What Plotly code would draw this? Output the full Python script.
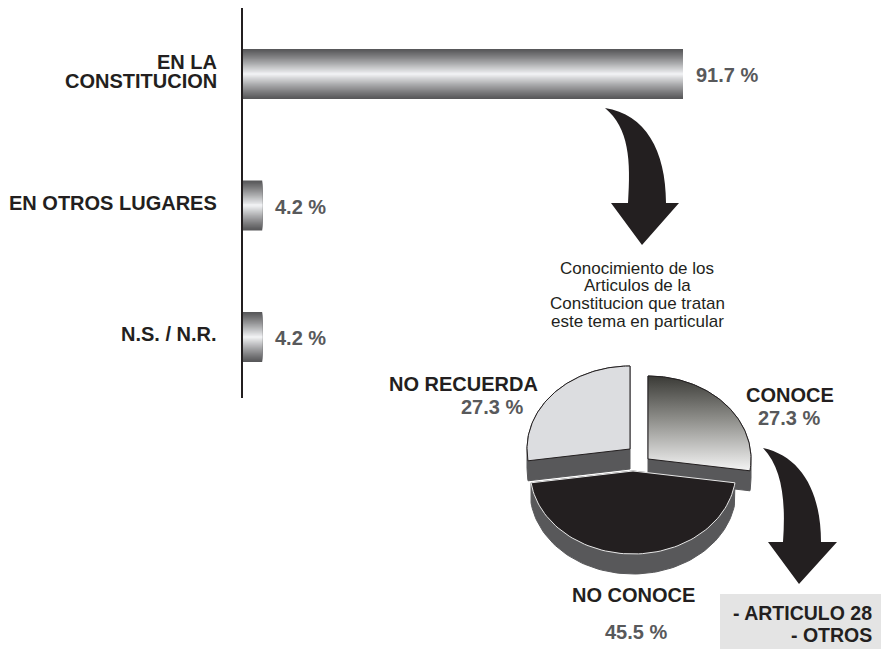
import numpy as np
import plotly.graph_objects as go

# --- data -------------------------------------------------------------
categories = ["EN LA<br>CONSTITUCION", "EN OTROS LUGARES", "N.S. / N.R."]
shares = [91.7, 4.2, 4.2]

pie_labels = ["CONOCE", "NO CONOCE", "NO RECUERDA"]
pie_values = [27.3, 45.5, 27.3]

subtitle_lines = ["Conocimiento de los", "Articulos de la",
                  "Constitucion que tratan", "este tema en particular"]
detail_items = ["- ARTICULO 28", "- OTROS"]

# --- styling ------------------------------------------------------------
W, H = 881, 652
FONT = "Liberation Sans, Arial, Helvetica, sans-serif"
INK = "#231f20"
GREY_TXT = "#58595b"
BAR_WIDTH = 0.38
BAR_LAYERS = 26
EDGE_RGB = np.array([88, 88, 90])
MID_RGB = np.array([246, 247, 249])

fig = go.Figure()

# cylinder-like bars: concentric overlaid bars, lighter towards the middle
for k in range(BAR_LAYERS):
    t = 1 - k / BAR_LAYERS
    rgb = EDGE_RGB + (MID_RGB - EDGE_RGB) * (1 - t) ** 1.1
    fig.add_trace(go.Bar(
        x=shares, y=categories, orientation="h",
        width=BAR_WIDTH * t,
        marker=dict(color="rgb(%d,%d,%d)" % tuple(rgb.astype(int)), line=dict(width=0)),
        hoverinfo="skip", showlegend=False,
        xaxis="x", yaxis="y",
    ))

# --- 3D exploded pie, drawn on a pixel canvas --------------------------
CX, CY = 639, 461
RX, RY = 103, 83
DEPTH = 20
explode = {"CONOCE": (9, -2), "NO CONOCE": (-6, 10), "NO RECUERDA": (-9, -12)}
top_style = {
    "CONOCE": dict(line=INK, fill=None),
    "NO CONOCE": dict(line="#e8e8e8", fill="#231f20"),
    "NO RECUERDA": dict(line=INK, fill="#dcdde0"),
}
SIDE = "#58585a"


def wedge(cx, cy, a0, a1, n=80):
    ts = np.linspace(a0, a1, n)
    xs = [cx] + list(cx + RX * np.sin(ts)) + [cx]
    ys = [cy] + list(cy - RY * np.cos(ts)) + [cy]
    return np.array(xs), np.array(ys)


def hull(xs, ys):
    pts = sorted(set(zip(np.round(xs, 3), np.round(ys, 3))))

    def cross(o, a, b):
        return (a[0] - o[0]) * (b[1] - o[1]) - (a[1] - o[1]) * (b[0] - o[0])

    lower, upper = [], []
    for p in pts:
        while len(lower) >= 2 and cross(lower[-2], lower[-1], p) <= 0:
            lower.pop()
        lower.append(p)
    for p in reversed(pts):
        while len(upper) >= 2 and cross(upper[-2], upper[-1], p) <= 0:
            upper.pop()
        upper.append(p)
    h = lower[:-1] + upper[:-1]
    h.append(h[0])
    return [p[0] for p in h], [p[1] for p in h]


total = sum(pie_values)
angles = np.concatenate([[0], np.cumsum(pie_values) / total * 2 * np.pi])
slices = []
for i, lab in enumerate(pie_labels):
    dx, dy = explode[lab]
    xs, ys = wedge(CX + dx, CY + dy, angles[i], angles[i + 1])
    slices.append((lab, xs, ys))

# back slices first, front slice last
order = ["NO RECUERDA", "CONOCE", "NO CONOCE"]
for lab in order:
    _, xs, ys = next(s for s in slices if s[0] == lab)
    hx, hy = hull(np.concatenate([xs, xs]), np.concatenate([ys, ys + DEPTH]))
    fig.add_trace(go.Scatter(
        x=hx, y=hy, mode="lines", fill="toself", fillcolor=SIDE,
        line=dict(color=SIDE, width=1), hoverinfo="skip", showlegend=False,
        xaxis="x2", yaxis="y2",
    ))
    st = top_style[lab]
    if st["fill"] is None:
        fig.add_trace(go.Scatter(
            x=xs, y=ys, mode="lines", fill="toself",
            fillgradient=dict(type="vertical",
                              colorscale=[[0, "#f4f4f4"], [0.55, "#8d8d89"], [1, "#3a3a36"]]),
            line=dict(color=st["line"], width=1), hoverinfo="skip", showlegend=False,
            xaxis="x2", yaxis="y2",
        ))
    else:
        fig.add_trace(go.Scatter(
            x=xs, y=ys, mode="lines", fill="toself", fillcolor=st["fill"],
            line=dict(color=st["line"], width=1), hoverinfo="skip", showlegend=False,
            xaxis="x2", yaxis="y2",
        ))

# --- shapes: axis line, curved arrows, detail box ------------------------
shapes = [
    dict(type="line", xref="x2", yref="y2", x0=242, x1=242, y0=8, y1=398,
         line=dict(color=INK, width=2)),
    dict(type="rect", xref="x2", yref="y2", x0=720, x1=881, y0=594, y1=649,
         fillcolor="#e4e4e4", line=dict(width=0), layer="below"),
    dict(type="path", xref="x2", yref="y2",
         path="M 605 108 C 645 114 666 150 666 203 L 679 203 L 642 245 L 611 203 "
              "L 628 203 C 631 160 629 128 605 108 Z",
         fillcolor=INK, line=dict(width=0)),
    dict(type="path", xref="x2", yref="y2",
         path="M 763 448 C 800 456 821 490 821 542 L 837 542 L 799 584 L 768 542 "
              "L 783 542 C 786 500 782 468 763 448 Z",
         fillcolor=INK, line=dict(width=0)),
]

# --- text ---------------------------------------------------------------
ann = []
bold = dict(family=FONT, size=20, color=INK, weight="bold")
bold_grey = dict(family=FONT, size=20, color=GREY_TXT, weight="bold")

for cat in categories:
    lines = cat.split("<br>")
    n = len(lines)
    for j, ln in enumerate(lines):
        shift = 3 + ((n - 1) / 2 - j) * 19
        ann.append(dict(xref="x2", yref="y", x=219, y=cat, text=ln, showarrow=False,
                        xanchor="right", yanchor="middle", yshift=shift, font=bold))

for cat, v in zip(categories, shares):
    ann.append(dict(xref="x", yref="y", x=v, y=cat, text=f"{v} %", showarrow=False,
                    xanchor="left", yanchor="middle", xshift=11, yshift=-1, font=bold_grey))

for j, ln in enumerate(subtitle_lines):
    ann.append(dict(xref="x2", yref="y2", x=637, y=268 + j * 17.7, text=ln, showarrow=False,
                    xanchor="center", yanchor="middle",
                    font=dict(family=FONT, size=17, color=INK)))

pie_text_pos = {
    "NO RECUERDA": ((463, 384), (492, 407)),
    "CONOCE": ((790, 395), (789, 418)),
    "NO CONOCE": ((633, 595), (636, 632)),
}
for lab, v in zip(pie_labels, pie_values):
    (lx, ly), (vx, vy) = pie_text_pos[lab]
    ann.append(dict(xref="x2", yref="y2", x=lx, y=ly, text=lab, showarrow=False,
                    xanchor="center", yanchor="middle", font=bold))
    ann.append(dict(xref="x2", yref="y2", x=vx, y=vy, text=f"{v} %", showarrow=False,
                    xanchor="center", yanchor="middle", font=bold_grey))

for j, item in enumerate(detail_items):
    ann.append(dict(xref="x2", yref="y2", x=874, y=613 + j * 22, text=item, showarrow=False,
                    xanchor="right", yanchor="middle",
                    font=dict(family=FONT, size=19.5, color=INK, weight="bold")))

fig.update_layout(
    width=W, height=H,
    margin=dict(l=0, r=0, t=0, b=0, pad=0),
    paper_bgcolor="white", plot_bgcolor="rgba(0,0,0,0)",
    barmode="overlay", showlegend=False,
    xaxis=dict(domain=[242 / W, 1], range=[0, (W - 242) / 4.809], visible=False,
               fixedrange=True),
    yaxis=dict(domain=[(H - 398) / H, (H - 8) / H], range=[2.464, -0.502], visible=False,
               type="category", categoryorder="array", categoryarray=categories,
               fixedrange=True),
    xaxis2=dict(domain=[0, 1], range=[0, W], visible=False, anchor="y2", fixedrange=True),
    yaxis2=dict(domain=[0, 1], range=[H, 0], visible=False, anchor="x2", fixedrange=True),
    shapes=shapes,
    annotations=ann,
)

fig.write_html("out.html", config={"displayModeBar": False})
